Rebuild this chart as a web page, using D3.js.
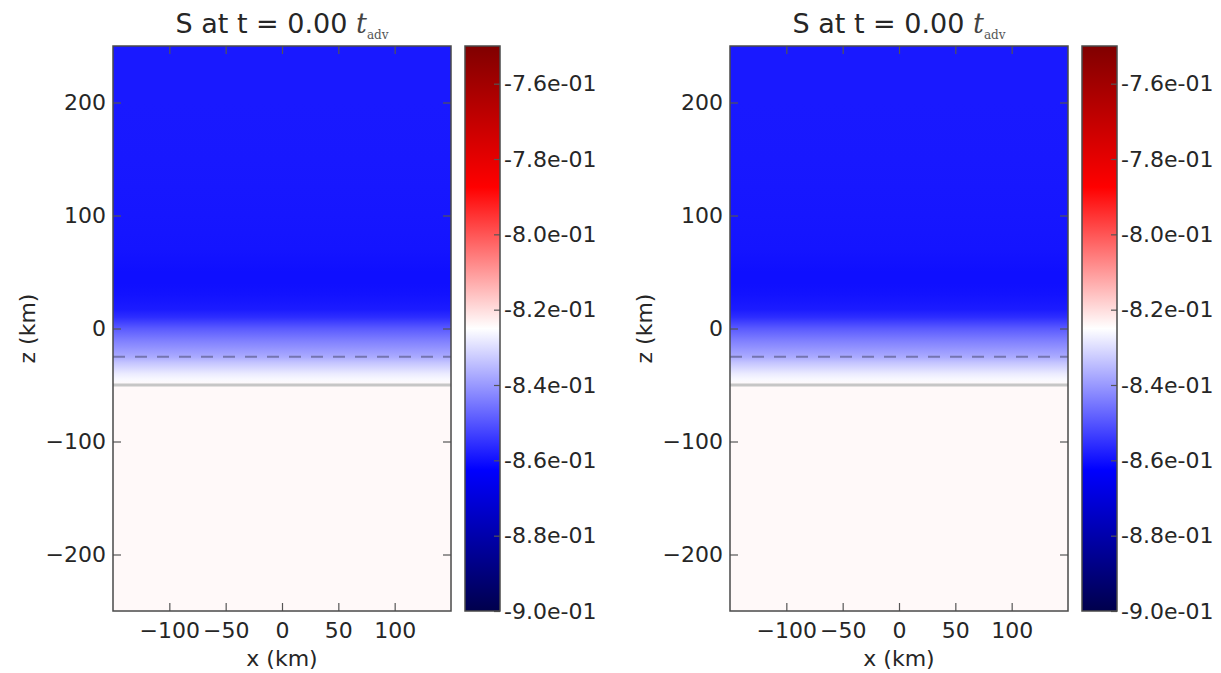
<!DOCTYPE html>
<html><head><meta charset="utf-8">
<script src="https://cdn.jsdelivr.net/npm/d3@7"></script>
<style>
body{margin:0;background:#fff}
svg{display:block}
text{font-family:"DejaVu Sans",sans-serif;fill:#262626}
</style>
</head><body>
<svg id="c" width="1221" height="673"></svg>
<script>
// ---- data ----
const panelTitles = ["S at t = 0.00 ", "S at t = 0.00 "];
const xTicks = [-100, -50, 0, 50, 100];
const zTicks = [-200, -100, 0, 100, 200];
const cbarTicks = [-0.90, -0.88, -0.86, -0.84, -0.82, -0.80, -0.78, -0.76];
const xDomain = [-150, 150];
const zDomain = [-250, 250];
const sDomain = [-0.90, -0.75];
// horizontally uniform S profile, sampled in z (km)
const zProfile = [250, 200, 150, 100, 70, 50, 40, 30, 17, 10, 0, -10, -20, -25, -30, -40, -45, -50, -100, -150, -200, -250];
const sProfile = [-0.8588, -0.8588, -0.8589, -0.8592, -0.8596, -0.8603, -0.8603, -0.8598, -0.8586, -0.8559, -0.8493, -0.8441, -0.8397, -0.8375, -0.8338, -0.8280, -0.8260, -0.8241, -0.8241, -0.8241, -0.8241, -0.8241];
const dashedLineZ = -25;
const solidLineZ = -50;
// seismic colormap nodes
const cmapPos = [0, 0.25, 0.5, 0.75, 1];
const cmapColors = ["#00004c", "#0000ff", "#ffffff", "#ff0000", "#800000"];

// ---- drawing ----
const svg = d3.select("#c");
const norm = d3.scaleLinear().domain(sDomain).range([0, 1]);
const cmap = d3.scaleLinear().domain(cmapPos).range(cmapColors).clamp(true);
const color = v => cmap(norm(v));

const fmt = v => {
  const [m, e] = v.toExponential(1).split("e");
  return m + "e" + (e[0] === "-" ? "-" : "+") + String(Math.abs(+e)).padStart(2, "0");
};

const panelOffsets = [0, 617];
const defs = svg.append("defs");

panelOffsets.forEach((off, i) => {
  const L = 113 + off, R = 451 + off, T = 46, B = 611;
  const cbL = 465 + off, cbR = 500 + off;
  const x = d3.scaleLinear().domain(xDomain).range([L, R]);
  const y = d3.scaleLinear().domain(zDomain).range([B, T]);
  const cy = d3.scaleLinear().domain(sDomain).range([B, T]);

  // field gradient
  const gid = "field" + i;
  const g = defs.append("linearGradient").attr("id", gid)
    .attr("gradientUnits", "userSpaceOnUse")
    .attr("x1", 0).attr("x2", 0).attr("y1", y(zDomain[1])).attr("y2", y(zDomain[0]));
  g.selectAll("stop").data(zProfile.map((z, k) => ({z, s: sProfile[k]}))).join("stop")
    .attr("offset", d => (y(d.z) - y(zDomain[1])) / (y(zDomain[0]) - y(zDomain[1])))
    .attr("stop-color", d => color(d.s));
  svg.append("rect").attr("x", L).attr("y", T).attr("width", R - L).attr("height", B - T)
    .attr("fill", `url(#${gid})`);

  // reference lines
  svg.append("line").attr("x1", L).attr("x2", R).attr("y1", y(solidLineZ)).attr("y2", y(solidLineZ))
    .attr("stroke", "#c6c6c6").attr("stroke-width", 3);
  svg.append("line").attr("x1", L).attr("x2", R).attr("y1", y(dashedLineZ)).attr("y2", y(dashedLineZ))
    .attr("stroke", "#7474b0").attr("stroke-width", 2).attr("stroke-dasharray", "12,10");

  // axes (inward ticks on all sides)
  const gb = svg.append("g").attr("transform", `translate(0,${B})`)
    .call(d3.axisBottom(x).tickValues(xTicks).tickSize(-8).tickPadding(11));
  const gl = svg.append("g").attr("transform", `translate(${L},0)`)
    .call(d3.axisLeft(y).tickValues(zTicks).tickSize(-8).tickPadding(7));
  const gt = svg.append("g").attr("transform", `translate(0,${T})`)
    .call(d3.axisTop(x).tickValues(xTicks).tickSize(-8).tickFormat(""));
  const gr = svg.append("g").attr("transform", `translate(${R},0)`)
    .call(d3.axisRight(y).tickValues(zTicks).tickSize(-8).tickFormat(""));
  [gb, gl, gt, gr].forEach(a => {
    a.select(".domain").remove();
    a.selectAll(".tick line").attr("stroke", "#555").attr("stroke-width", 1.2);
    a.selectAll("text").attr("font-size", 22).attr("font-family", "DejaVu Sans").attr("fill", "#262626");
  });

  // frame
  svg.append("rect").attr("x", L).attr("y", T).attr("width", R - L).attr("height", B - T)
    .attr("fill", "none").attr("stroke", "#4a4a4a").attr("stroke-width", 1.5);

  // axis labels
  svg.append("text").attr("x", (L + R) / 2).attr("y", 666).attr("text-anchor", "middle")
    .attr("font-size", 22).text("x (km)");
  svg.append("text").attr("transform", `translate(${27 + off},${(T + B) / 2}) rotate(-90)`)
    .attr("text-anchor", "middle").attr("dy", "0.35em").attr("font-size", 22).text("z (km)");

  // title
  const t = svg.append("text").attr("x", (L + R) / 2).attr("y", 33).attr("text-anchor", "middle")
    .attr("font-size", 27);
  t.append("tspan").text(panelTitles[i]);
  t.append("tspan").attr("font-family", "DejaVu Serif").attr("font-style", "italic").attr("fill", "#444").text("t");
  t.append("tspan").attr("font-family", "DejaVu Serif").attr("font-size", 12).attr("dy", 6).attr("fill", "#555").text("adv");

  // colorbar
  const cid = "cbar" + i;
  const cg = defs.append("linearGradient").attr("id", cid)
    .attr("gradientUnits", "userSpaceOnUse")
    .attr("x1", 0).attr("x2", 0).attr("y1", cy(sDomain[0])).attr("y2", cy(sDomain[1]));
  cg.selectAll("stop").data(cmapPos).join("stop")
    .attr("offset", d => d)
    .attr("stop-color", d => cmap(d));
  svg.append("rect").attr("x", cbL).attr("y", T).attr("width", cbR - cbL).attr("height", B - T)
    .attr("fill", `url(#${cid})`);
  const ga = svg.append("g").attr("transform", `translate(${cbR},0)`)
    .call(d3.axisRight(cy).tickValues(cbarTicks).tickSize(-6).tickPadding(4).tickFormat(fmt));
  ga.select(".domain").remove();
  ga.selectAll(".tick line").attr("stroke", "#555").attr("stroke-width", 1.2);
  ga.selectAll("text").attr("font-size", 22).attr("font-family", "DejaVu Sans").attr("fill", "#262626");
  svg.append("rect").attr("x", cbL).attr("y", T).attr("width", cbR - cbL).attr("height", B - T)
    .attr("fill", "none").attr("stroke", "#4a4a4a").attr("stroke-width", 1.5);
});
</script>
</body></html>
